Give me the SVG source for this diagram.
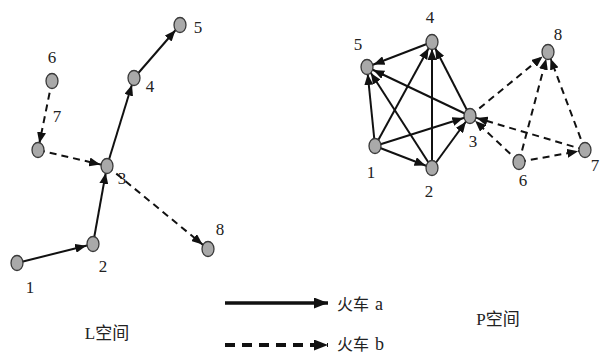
<svg xmlns="http://www.w3.org/2000/svg" width="601" height="353" viewBox="0 0 601 353">
<style>
.e{stroke:#111;stroke-width:2;fill:none;marker-end:url(#ah)}
.d{stroke-dasharray:7 5}
.n{fill:#a9a9a9;stroke:#3a3a3a;stroke-width:1.3}
.t{font-family:"Liberation Serif","Noto Sans CJK SC",serif;font-size:17px;fill:#222;text-anchor:middle}
.lg{font-family:"Liberation Serif","Noto Sans CJK SC",serif;font-size:16px;fill:#222}
</style>
<defs>
<marker id="ah" markerUnits="userSpaceOnUse" markerWidth="12" markerHeight="9" refX="18" refY="4.5" orient="auto">
<path d="M0,0 L11,4.5 L0,9 z" fill="#111"/>
</marker>
<marker id="al" markerUnits="userSpaceOnUse" markerWidth="15" markerHeight="11" refX="14" refY="5.5" orient="auto">
<path d="M0,0 L14,5.5 L0,11 z" fill="#111"/>
</marker>
</defs>
<rect width="601" height="353" fill="#fff"/>
<g id="connectors">
<line class="e" x1="17" y1="263" x2="93" y2="244"/>
<line class="e" x1="93" y1="244" x2="107" y2="166"/>
<line class="e" x1="107" y1="166" x2="134" y2="78"/>
<line class="e" x1="134" y1="78" x2="180" y2="25"/>
<line class="e d" x1="52" y1="81" x2="38" y2="150"/>
<line class="e d" x1="38" y1="150" x2="107" y2="166"/>
<line class="e d" x1="107" y1="166" x2="208" y2="249"/>
<line class="e" x1="375" y1="146" x2="432" y2="168"/>
<line class="e" x1="375" y1="146" x2="470" y2="116"/>
<line class="e" x1="375" y1="146" x2="432" y2="42"/>
<line class="e" x1="375" y1="146" x2="367" y2="67"/>
<line class="e" x1="432" y1="168" x2="470" y2="116"/>
<line class="e" x1="432" y1="168" x2="432" y2="42"/>
<line class="e" x1="432" y1="168" x2="367" y2="67"/>
<line class="e" x1="470" y1="116" x2="432" y2="42"/>
<line class="e" x1="470" y1="116" x2="367" y2="67"/>
<line class="e" x1="432" y1="42" x2="367" y2="67"/>
<line class="e d" x1="519" y1="162" x2="585" y2="150"/>
<line class="e d" x1="519" y1="162" x2="470" y2="116"/>
<line class="e d" x1="519" y1="162" x2="548" y2="52"/>
<line class="e d" x1="585" y1="150" x2="470" y2="116"/>
<line class="e d" x1="585" y1="150" x2="548" y2="52"/>
<line class="e d" x1="470" y1="116" x2="548" y2="52"/>
<line x1="225" y1="303" x2="328" y2="303" stroke="#111" stroke-width="3.5" marker-end="url(#al)"/>
<line x1="225" y1="345" x2="328" y2="345" stroke="#111" stroke-width="4" stroke-dasharray="10 7" marker-end="url(#al)"/>
</g>
<g id="L-space">
<g id="L1"><ellipse class="n" cx="17" cy="263" rx="6" ry="7.5"/><text class="t" x="30" y="293">1</text></g>
<g id="L2"><ellipse class="n" cx="93" cy="244" rx="6" ry="7.5"/><text class="t" x="103" y="272">2</text></g>
<g id="L3"><ellipse class="n" cx="107" cy="166" rx="6" ry="7.5"/><text class="t" x="122" y="184">3</text></g>
<g id="L4"><ellipse class="n" cx="134" cy="78" rx="6" ry="7.5"/><text class="t" x="150" y="92">4</text></g>
<g id="L5"><ellipse class="n" cx="180" cy="25" rx="6" ry="7.5"/><text class="t" x="198" y="33">5</text></g>
<g id="L6"><ellipse class="n" cx="52" cy="81" rx="6" ry="7.5"/><text class="t" x="52" y="63">6</text></g>
<g id="L7"><ellipse class="n" cx="38" cy="150" rx="6" ry="7.5"/><text class="t" x="57" y="122">7</text></g>
<g id="L8"><ellipse class="n" cx="208" cy="249" rx="6" ry="7.5"/><text class="t" x="220" y="235">8</text></g>
<text class="t" x="107" y="339">L空间</text>
</g>
<g id="P-space">
<g id="P1"><ellipse class="n" cx="375" cy="146" rx="6" ry="7.5"/><text class="t" x="371" y="178">1</text></g>
<g id="P2"><ellipse class="n" cx="432" cy="168" rx="6" ry="7.5"/><text class="t" x="429" y="197">2</text></g>
<g id="P3"><ellipse class="n" cx="470" cy="116" rx="6" ry="7.5"/><text class="t" x="473" y="147">3</text></g>
<g id="P4"><ellipse class="n" cx="432" cy="42" rx="6" ry="7.5"/><text class="t" x="430" y="23">4</text></g>
<g id="P5"><ellipse class="n" cx="367" cy="67" rx="6" ry="7.5"/><text class="t" x="358" y="50">5</text></g>
<g id="P6"><ellipse class="n" cx="519" cy="162" rx="6" ry="7.5"/><text class="t" x="523" y="186">6</text></g>
<g id="P7"><ellipse class="n" cx="585" cy="150" rx="6" ry="7.5"/><text class="t" x="595" y="171">7</text></g>
<g id="P8"><ellipse class="n" cx="548" cy="52" rx="6" ry="7.5"/><text class="t" x="558" y="40">8</text></g>
<text class="t" x="498" y="325">P空间</text>
</g>
<g id="legend">
<text class="lg" x="337" y="310">火车<tspan dx="6" font-size="18">a</tspan></text>
<text class="lg" x="337" y="350">火车<tspan dx="6" font-size="18">b</tspan></text>
</g>
</svg>
